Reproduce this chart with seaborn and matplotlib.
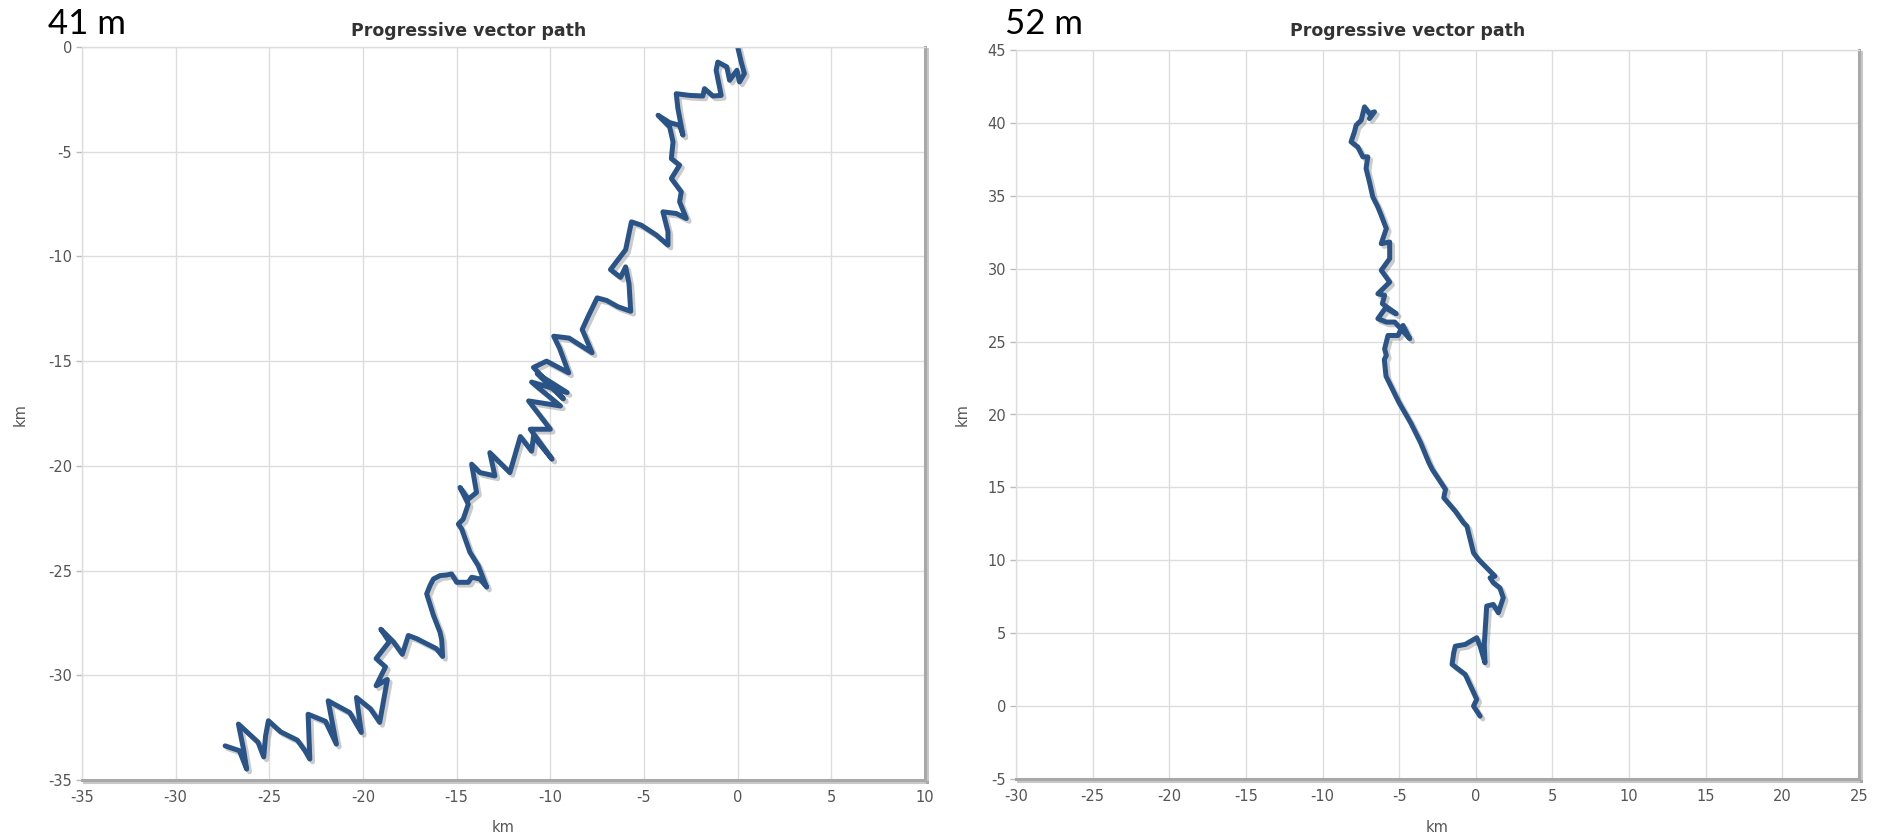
import numpy as np
import pandas as pd
import matplotlib
matplotlib.use("Agg")
import matplotlib.pyplot as plt
import matplotlib.patheffects as pe
import seaborn as sns

# Progressive vector path, 41 m depth (km east, km north)
east_41 = [0.0, 0.19, 0.36, 0.10, -0.04, -0.43, -0.58, -1.06, -1.15, -0.88, -1.32, -1.77, -1.86,
           -2.57, -3.28, -3.19, -2.92, -3.10, -3.63, -4.25, -3.63, -3.45, -3.54, -3.10, -3.54,
           -3.01, -3.10, -2.74, -3.28, -3.99, -3.72, -3.72, -4.34, -5.14, -5.67, -5.98, -6.79,
           -6.25, -5.98, -5.80, -5.71, -6.40, -7.00, -7.50, -8.00, -8.30, -7.77, -9.00, -9.82,
           -9.50, -9.02, -10.2, -10.9, -9.30, -10.7, -9.10, -11.0, -9.46, -11.16, -10.0, -11.07,
           -9.91, -10.9, -11.0, -11.6, -12.16, -13.23, -12.96, -13.76, -14.2, -13.94, -14.38,
           -14.82, -14.38, -14.65, -14.91, -14.73, -14.29, -13.85, -13.4, -13.76, -14.2, -14.38,
           -15.0, -15.27, -15.53, -15.89, -16.24, -16.42, -16.6, -16.24, -15.89, -15.80, -15.75,
           -16.08, -17.14, -17.58, -17.90, -18.37, -19.05, -18.6, -19.3, -18.8, -19.3, -18.7,
           -19.11, -19.6, -20.35, -20.09, -20.71, -21.86, -21.42, -22.0, -22.93, -22.84, -23.1,
           -23.5, -24.4, -25.05, -25.2, -25.3, -25.6, -26.65, -26.38, -26.21, -26.6, -27.36]
north_41 = [0.0, -0.72, -1.27, -1.67, -1.11, -1.59, -0.95, -0.72, -1.11, -2.31, -2.34, -1.99, -2.34,
            -2.31, -2.23, -2.94, -4.21, -3.74, -3.61, -3.26, -3.82, -4.53, -5.33, -5.64, -6.28,
            -6.92, -7.39, -8.19, -7.95, -7.87, -8.82, -9.46, -8.98, -8.51, -8.35, -9.68, -10.63,
            -11.0, -10.5, -11.3, -12.62, -12.4, -12.1, -11.98, -12.9, -13.49, -14.6, -13.9, -13.81,
            -14.4, -15.56, -15.0, -15.3, -16.8, -15.6, -16.5, -16.0, -17.14, -16.9, -18.25, -18.25,
            -19.68, -18.6, -19.3, -18.6, -20.32, -19.37, -20.48, -20.32, -19.92, -21.27, -21.59,
            -21.03, -21.83, -22.54, -22.78, -23.02, -24.13, -24.76, -25.79, -25.40, -25.32, -25.56,
            -25.56, -25.16, -25.21, -25.24, -25.4, -25.71, -26.11, -27.14, -27.94, -28.3, -29.1,
            -28.73, -28.25, -28.1, -29.0, -28.41, -27.8, -28.4, -29.2, -29.6, -30.5, -30.2,
            -32.25, -31.6, -31.06, -32.73, -31.78, -31.22, -33.29, -32.2, -31.86, -34.0, -33.6,
            -33.1, -32.7, -32.17, -32.9, -33.9, -33.2, -32.33, -33.52, -34.48, -33.6, -33.37]

# Progressive vector path, 52 m depth (km east, km north)
east_52 = [0.28, -0.15, 0.06, -0.69, -1.55, -1.44, -1.34, -0.69, 0.06, 0.28, 0.60, 0.55, 0.60,
           0.71, 1.14, 1.47, 1.79, 1.57, 1.14, 0.93, 1.25, 0.17, -0.15, -0.58, -0.80, -1.34,
           -2.09, -1.98, -2.84, -3.06, -3.60, -3.92, -4.25, -5.00, -5.22, -5.86, -5.97, -5.84,
           -5.95, -5.73, -5.08, -4.75, -4.31, -5.29, -5.84, -6.39, -5.90, -5.19, -6.10, -5.95,
           -6.39, -5.62, -6.17, -5.62, -5.62, -6.17, -5.84, -6.17, -6.39, -6.72, -6.94, -7.16,
           -7.05, -7.37, -7.70, -8.14, -7.92, -7.81, -7.48, -7.26, -6.94, -6.61, -6.94]
north_52 = [-0.69, 0.0, 0.46, 2.17, 2.86, 3.66, 4.11, 4.23, 4.69, 4.11, 2.97, 4.2, 5.03,
            6.86, 6.97, 6.40, 7.43, 8.11, 8.46, 8.80, 8.91, 10.06, 10.51, 12.34, 12.57, 13.37,
            14.29, 14.86, 16.23, 16.69, 18.06, 18.74, 19.43, 20.80, 21.26, 22.63, 23.77, 24.05,
            24.50, 25.42, 25.42, 26.11, 25.20, 26.34, 26.34, 26.57, 27.30, 26.91, 27.60, 28.17,
            28.28, 29.08, 29.89, 30.69, 31.83, 31.72, 32.75, 33.66, 34.23, 34.92, 35.95, 36.87,
            37.67, 37.67, 38.35, 38.70, 39.38, 39.84, 40.18, 41.10, 40.64, 40.76, 40.30]

depth_labels = ["41 m", "52 m"]
chart_title = "Progressive vector path"
xlims = [(-35, 10), (-30, 25)]
ylims = [(-35, 0), (-5, 45)]

sns.set_theme(style="whitegrid")
plt.rcParams["font.family"] = ["DejaVu Sans"]
plt.rcParams["axes.unicode_minus"] = False

line_color = "#2a5487"
tick_color = "#555555"

fig = plt.figure(figsize=(18.85, 8.38), dpi=100)
fig.patch.set_facecolor("white")
ax_rects = [[82 / 1885, 58 / 838, 843 / 1885, 733 / 838],
            [1016 / 1885, 59 / 838, 843 / 1885, 729 / 838]]
title_x = [469 / 1885, 1408 / 1885]
label_x = [48 / 1885, 1005 / 1885]
ylabel_x = [20 / 1885, 962 / 1885]

paths = [(east_41, north_41), (east_52, north_52)]

for i, (ex, ny) in enumerate(paths):
    ax = fig.add_axes(ax_rects[i])
    df = pd.DataFrame({"east": ex, "north": ny})
    sns.lineplot(data=df, x="east", y="north", sort=False, estimator=None, ax=ax,
                 color=line_color, linewidth=3.6, solid_capstyle="round", solid_joinstyle="round")
    for ln in ax.lines:
        ln.set_path_effects([pe.SimpleLineShadow(offset=(2, -2), shadow_color="#555555", alpha=0.3),
                             pe.Normal()])
    x0, x1 = xlims[i]
    y0, y1 = ylims[i]
    ax.set_xlim(x0, x1)
    ax.set_ylim(y0, y1)
    ax.set_xticks(np.arange(x0, x1 + 1, 5))
    ax.set_yticks(np.arange(y0, y1 + 1, 5))
    ax.set_facecolor("white")
    ax.grid(True, color="#dddddd", linewidth=1)
    ax.set_xlabel("")
    ax.set_ylabel("")
    ax.tick_params(axis="x", length=0, pad=7, labelsize=10.5, labelcolor=tick_color)
    ax.tick_params(axis="y", length=4, width=1, color="#bbbbbb", pad=3, labelsize=10.5,
                   labelcolor=tick_color, left=True)
    for side in ("left", "top"):
        ax.spines[side].set_color("#dddddd")
        ax.spines[side].set_linewidth(1)
    for side in ("bottom", "right"):
        ax.spines[side].set_color("#a8a8a8")
        ax.spines[side].set_linewidth(2.2)
        ax.spines[side].set_path_effects([pe.SimpleLineShadow(offset=(1.5, -1.5), shadow_color="#777777",
                                                               alpha=0.4), pe.Normal()])
    fig.text(title_x[i], 1 - 31 / 838, chart_title, ha="center", va="center",
             fontsize=12.5, fontweight="bold", color="#333333")
    fig.text(label_x[i], 1 - 34 / 838, depth_labels[i], ha="left", va="baseline",
             fontsize=25, family="Lato", color="black")
    fig.text((ax_rects[i][0] + ax_rects[i][2] / 2), 11 / 838, "km", ha="center", va="center",
             fontsize=10.5, color=tick_color)
    fig.text(ylabel_x[i], 1 - 415 / 838, "km", ha="center", va="center", rotation=90,
             fontsize=10.5, color=tick_color)

fig.savefig("out.png", dpi=100, facecolor="white")
